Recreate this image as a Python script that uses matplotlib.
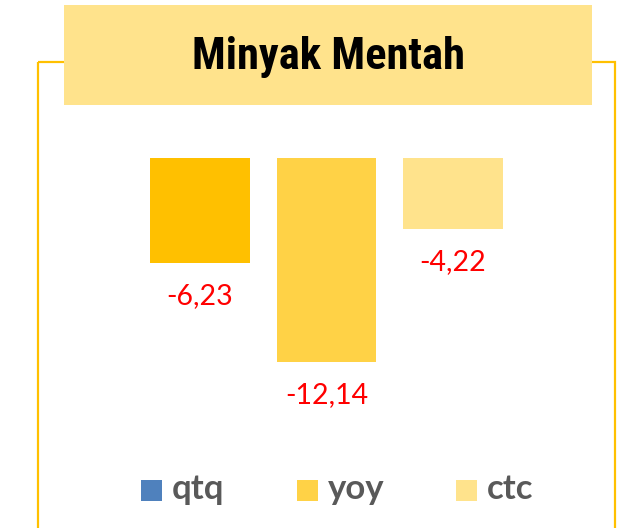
import matplotlib
matplotlib.use("Agg")
import matplotlib.pyplot as plt
from matplotlib.patches import Rectangle
from matplotlib import font_manager

# data
categories = ["qtq", "yoy", "ctc"]
values = [-6.23, -12.14, -4.22]
labels = ["-6,23", "-12,14", "-4,22"]
bar_colors = ["#FFC000", "#FFD246", "#FFE38C"]
legend_colors = ["#4F81BD", "#FFD246", "#FFE38C"]
title = "Minyak Mentah"

# pick a condensed bold face if one is around
title_fp = font_manager.FontProperties(family="DejaVu Sans", stretch="condensed",
                                       weight="bold", size=32)
names = {f.name for f in font_manager.fontManager.ttflist}
for cand in ["Liberation Sans Narrow", "Roboto Condensed", "Open Sans Condensed"]:
    if cand in names:
        title_fp = font_manager.FontProperties(family=cand, weight="bold", size=32)
        break

fig = plt.figure(figsize=(6.2, 5.28), dpi=100)

# background layer in pixel coords for frame, title box and legend
bg = fig.add_axes([0, 0, 1, 1])
bg.set_xlim(0, 620)
bg.set_ylim(528, 0)
bg.axis("off")

# outer frame (runs off the bottom)
bg.add_patch(Rectangle((38, 62), 577, 500, fill=False, edgecolor="#FFC000", lw=1.6))
# title box
bg.add_patch(Rectangle((64, 5), 528, 100, facecolor="#FFE38C", edgecolor="none"))
bg.text(328, 57, title, ha="center", va="center", fontproperties=title_fp, color="black")

# legend
leg_x = [141, 297, 456]
for x, name, c in zip(leg_x, categories, legend_colors):
    bg.add_patch(Rectangle((x, 480), 21, 21, facecolor=c, edgecolor="none"))
    bg.text(x + 31, 489, name, ha="left", va="center", fontsize=25, fontweight="bold",
            family=["Lato", "DejaVu Sans"], color="#595959")

# bars
ax = fig.add_axes([0.2206, 0.2553, 0.612, 0.4455])
ax.set_xlim(-0.5, 2.5)
ax.set_ylim(-14, 0)
ax.axis("off")
bars = ax.bar(range(len(values)), values, width=0.79, color=bar_colors)
for i, (v, lab) in enumerate(zip(values, labels)):
    ax.annotate(lab, (i, v), xytext=(0, -24), textcoords="offset points",
                ha="center", va="center", fontsize=20.5, color="#FF0000",
                family=["Lato", "DejaVu Sans"])

fig.savefig("out.png", dpi=100)
